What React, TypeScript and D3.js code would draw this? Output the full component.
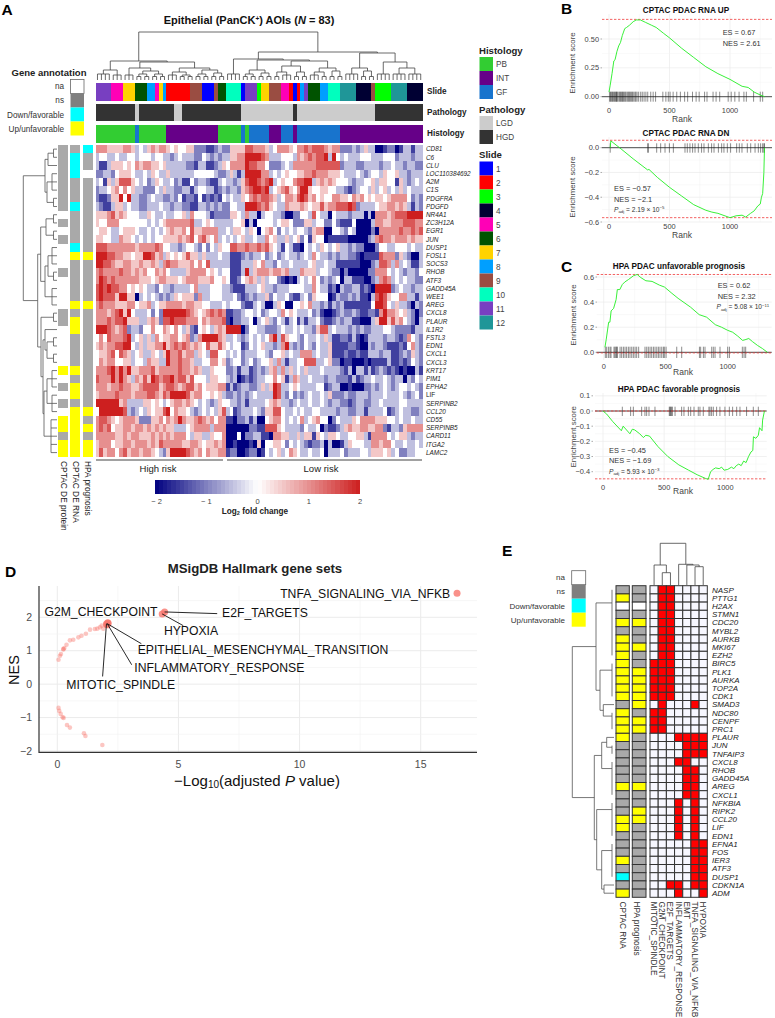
import React from "react";
import * as d3 from "d3";

const FONT = "'Liberation Sans', Arial, sans-serif";

// ---------- Panel A data ----------
const genesA = ["CD81","C6","CLU","LOC110384692","A2M","C1S","PDGFRA","PDGFD","NR4A1","ZC3H12A","EGR1","JUN","DUSP1","FOSL1","SOCS3","RHOB","ATF3","GADD45A","WEE1","AREG","CXCL8","PLAUR","IL1R2","FSTL3","EDN1","CXCL1","CXCL3","KRT17","PIM1","EPHA2","LIF","SERPINB2","CCL20","CD55","SERPINB5","CARD11","ITGA2","LAMC2"];
// each digit d = log2 FC level (d-4)/2
const heatRows = [
"6665555665 3435656654 5445522211 2322555577 6665346665 4667677765 6622232353 3001220133133",
"3443343344 3444344332 3433322432 3233556688 8876333444 3656767783 8434333444 3334442333233",
"3113555454 6566554533 3332213311 2354666687 7664222343 6666667777 7723332233 3323343323322",
"2233245554 3343543353 3333344444 3223531388 8866343454 4556676665 5543334323 4435445332333",
"3415357775 4342354334 2311423321 1343323578 8767834544 6778835656 5444323344 5355441532343",
"2334564645 3322243533 2233134433 1232332567 8878345675 4688544554 4332123443 5345343534333",
"2112558483 3223433223 2412214121 2143433546 7677653466 5787564544 6655465645 4554566664232",
"3211355343 3223334332 3322113323 2322443388 8767543365 5565455756 6777872333 3455665653132",
"5556756544 4335433433 4453644431 2222554363 3034433200 2244374330 4333233303 0666567778888",
"5446664444 4443434566 6666733454 3333344503 0444434554 2225534422 4211140000 3665566677766",
"4554334555 4334343456 5564755666 6334355435 4045642434 3443256600 4432430000 2066666766767",
"5544336554 3434344555 5656746754 6343434533 4336453353 4524154401 1111000002 3676656665655",
"7776666666 5666676443 3234432424 3544776676 6767543143 1104343543 4533232200 0244334443433",
"8887766554 5588756354 5457553533 3433111232 3342342343 3234364332 3233221011 1176662532003",
"8877655665 5655653676 6555646473 3333111333 5463324334 3333453343 3111111000 2377636343113",
"6766667665 6564465643 3335666645 4344111383 5666566563 3365553443 2202000002 2666434323324",
"6876766666 6555456655 5456665556 4454112456 5353442101 0343464232 3403311100 2367634343322",
"7878776645 4543324332 3333463334 4433211133 3453323334 4443364331 2032233121 0888823433233",
"7877758855 0343432323 5455526334 4433342123 2335243342 1134254440 1322323110 3787544663313",
"6766655566 4556345566 6656655443 3343444211 3430035400 4454633231 3231111111 4887435332032",
"6665678584 3334242888 8887654567 6761122344 3423443645 4333423100 1232232112 2168665453202",
"6667677855 5335652778 7776664656 6671022334 0345324313 4131334211 2323311000 3588575643203",
"8887656723 3244644654 6435214543 5658888024 4332223433 4343325773 4333232322 3334432222133",
"4647666783 4535364556 6456236888 8653343234 3434683754 4324334353 1122131013 3332332126432",
"5656677884 3535566856 7676565475 5754344124 3453323683 2324324335 1111221003 2332111214632",
"4556747653 4533543586 6756635437 7443434233 3443244534 3366634335 1112112113 3323311232532",
"4656644553 4436553386 6766533446 6452344234 2344536313 3447773345 2201100010 1111311212432",
"6667868685 5666756666 6766565335 4442231331 2323563635 3435333433 3321303313 1232121010031",
"7666868653 6575876778 6775744435 5443230121 2334464513 6533433323 3222131233 4334323303243",
"6665667665 5677775677 6567756455 5661312332 2353587334 5433334412 3300100022 3234323443432",
"5666676665 6667765768 8887566445 4532232323 4333387324 2323433435 2223223332 3334333432342",
"8888885633 3355454345 6656543432 3544332313 3334565332 3433433432 3322123322 3343333443333",
"4888888732 3435455784 6554323434 3573412333 4325577433 4343344333 3233223313 3334123433223",
"6776545666 5222556465 6865567656 4661102231 3004566434 3463456440 2433354666 6555443433433",
"6767455665 6656565655 3334566663 6660000002 2117775433 3324334021 1235655665 5662133256666",
"6666655656 6555656565 6664355335 4460004022 3311066553 3535515435 5433445531 6666434553233",
"5666455665 6665657666 6655665455 6560010001 0504455424 3432122303 0013544433 6656643343343",
"5756646756 6566543258 8887656465 5661220012 2014345346 5433433403 3342333443 5554534223344",
];
const slideRuns: [number, number][] = [[11,4],[5,3],[7,3],[6,3],[8,2],[5,1],[7,1],[8,1],[2,6],[9,3],[1,3],[9,1],[6,2],[10,4],[1,1],[11,3],[3,1],[7,2],[9,3],[5,2],[2,1],[1,1],[2,1],[8,1],[11,1],[6,3],[8,2],[10,3],[12,4],[4,4],[9,1],[3,4],[12,4],[4,4]];
const pathologyRuns: [string, number][] = [["HGD",10],["LGD",1],["HGD",9],["LGD",2],["HGD",15],["LGD",13],["HGD",1],["LGD",20],["HGD",12]];
const histologyRuns: [string, number][] = [["PB",10],["GF",1],["PB",7],["INT",13],["PB",6],["GF",1],["PB",1],["GF",5],["INT",3],["GF",3],["INT",1],["GF",11],["INT",21]];
// annotation codes: w=na, g=ns, c=down/favorable, y=up/unfavorable
const annoProtein = "ggggggggwgwgwwwgwwwwggwwwwwywgwgwyygyy";
const annoRna     = "gcccgggcggggcygggggygyyggggygyygyyyyyy";
const annoHpa     = "cggwgggggggggygggggyggggggggggggygygyy";
const colTree: any = [48,[19,[10,4,3],[18,[12,3,[9,[6,2,2],[6,2,2]]],[12,[8,3,[5,2,2]],[10,[6,2,2],[7,2,2]]]]],
  [28,[21,4,[20,[10,[6,2,2],[7,2,2]],[19,[14,[8,2,3],[8,2,2]],[12,[8,3,2],[9,2,2]]]]],[27,[12,4,[9,2,2]],[18,4,[12,4,4]]]]];
const rowTree: any = [33.7,[12,[9,2,1],[10,3,2]],[19.3,[16.3,[11,2,2],[12,[9,3,2],3]],[16,2,[14,[12,1,[10,2,2]],[13,[10,3,3],5]]]]];
const slideNames = ["1","2","3","4","5","6","7","8","9","10","11","12"];
const slideColors = ["#0000FF","#FF0000","#00FF00","#000033","#FF00B6","#005300","#FFD300","#009FFF","#9A4D42","#00FFBE","#783FC1","#1F9698"];
const histNames = ["PB","INT","GF"];
const histColors = ["#32CD32","#660088","#1874CD"];
const pathNames = ["LGD","HGD"];
const pathColors = ["#CCCCCC","#333333"];
const annoNames = ["na","ns","Down/favorable","Up/unfavorable"];
const colorbarTicks = [-2,-1,0,1,2];

// ---------- Panels B, C data ----------
const upCurve = [[0,.04],[10,.1],[25,.2],[40,.31],[50,.32],[65,.39],[80,.44],[95,.47],[110,.53],[120,.56],[130,.59],[145,.60],[170,.62],[200,.65],[225,.665],[260,.665],[300,.645],[350,.62],[390,.60],[450,.55],[500,.51],[600,.42],[700,.34],[800,.26],[900,.2],[1000,.15],[1100,.09],[1150,.08],[1200,.04],[1250,.015],[1285,0]];
const upRug = [5,12,18,25,30,38,45,52,58,62,68,75,85,92,98,105,112,118,125,133,140,150,158,165,172,180,188,195,205,215,222,232,245,262,275,290,305,320,345,365,385,445,470,490,505,530,560,590,625,650,690,720,745,790,810,860,885,915,985,1010,1040,1075,1115,1135,1195,1250,1270];
const dnCurve = [[10,0],[15,.055],[100,-.01],[200,-.09],[320,-.18],[330,-.175],[400,-.24],[500,-.32],[600,-.39],[700,-.46],[800,-.505],[850,-.52],[900,-.53],[1000,-.565],[1050,-.55],[1100,-.545],[1130,-.56],[1170,-.53],[1200,-.51],[1230,-.47],[1250,-.455],[1260,-.40],[1270,-.37],[1280,-.2],[1285,0]];
const dnRug = [10,320,325,394,427,463,499,532,628,647,669,691,711,738,765,785,821,848,868,904,931,950,978,1005,1055,1077,1099,1143,1171,1207,1234,1253,1270,1281,1284];
const unfavCurve = [[10,.04],[20,.1],[30,.17],[40,.24],[50,.24],[60,.33],[80,.35],[100,.42],[110,.5],[130,.5],[150,.54],[170,.56],[200,.58],[240,.61],[270,.62],[300,.595],[340,.57],[390,.565],[450,.535],[490,.52],[550,.47],[600,.43],[700,.36],[770,.3],[830,.28],[900,.22],[950,.2],[1000,.175],[1040,.16],[1080,.13],[1120,.095],[1140,.1],[1170,.11],[1200,.085],[1240,.055],[1280,.03],[1320,0]];
const unfavRug = [13,24,38,51,59,83,91,99,105,110,132,145,159,172,185,199,212,226,239,253,266,282,333,347,360,374,387,401,414,428,441,454,468,481,489,503,589,629,772,782,804,817,871,884,898,938,1000,1014,1118,1132,1145];
const favCurve = [[0,0],[30,-.02],[80,-.07],[150,-.13],[165,-.1],[220,-.15],[240,-.12],[260,-.125],[300,-.15],[330,-.175],[350,-.16],[380,-.165],[450,-.235],[530,-.3],[620,-.355],[700,-.39],[770,-.42],[840,-.445],[860,-.45],[880,-.40],[900,-.385],[920,-.375],[950,-.38],[970,-.37],[990,-.39],[1020,-.385],[1050,-.37],[1070,-.38],[1090,-.36],[1110,-.35],[1130,-.36],[1150,-.33],[1170,-.34],[1190,-.3],[1210,-.27],[1225,-.26],[1230,-.17],[1250,-.18],[1270,-.16],[1280,-.11],[1300,-.13],[1305,-.06],[1320,0]];
const favRug = [158,226,248,316,343,357,376,425,542,548,553,561,567,589,643,662,698,717,744,779,793,820,866,875,888,902,929,956,997,1033,1060,1093,1120,1174,1229,1270];

// ---------- Panel D data ----------
const topSets = [[16.5,2.72],[4.43,2.16],[4.33,2.1],[2.03,1.8],[2.08,1.84],[2.05,1.78],[2.1,1.82]];
const otherSets = [[.05,.73],[.11,.85],[.15,.9],[.25,1.04],[.29,1.08],[.25,1.05],[.38,1.18],[.52,1.31],[.66,1.33],[.87,1.4],[1.0,1.45],[1.18,1.51],[1.35,1.63],[1.55,1.65],[1.65,1.66],[1.76,1.7],[1.83,1.75],[1.9,1.66],[2.1,1.73],
  [.05,-.71],[.08,-.8],[.14,-.89],[.22,-.99],[.26,-1.01],[.4,-1.22],[.52,-1.3],[1.1,-1.47],[1.16,-1.55],[1.86,-1.82]];
const dTicksX = [0,5,10,15];
const dTicksY = [-2,-1,0,1,2];
const dLabels: [string, number, number][] = [
 ["TNFA_SIGNALING_VIA_NFKB",9.2,2.66],["G2M_CHECKPOINT",-.53,2.13],["E2F_TARGETS",6.8,2.1],["HYPOXIA",4.4,1.58],
 ["EPITHELIAL_MESENCHYMAL_TRANSITION",3.32,1.0],["INFLAMMATORY_RESPONSE",3.18,.47],["MITOTIC_SPINDLE",.37,-.05]];
const dSegments = [[4.43,2.16,6.6,2.11],[4.33,2.1,5.2,1.75],[2.06,1.81,3.47,1.21],[2.06,1.81,3.07,.58],[2.03,1.81,1.87,.23]];

// ---------- Panel E data ----------
const genesE = ["NASP","PTTG1","H2AX","STMN1","CDC20","MYBL2","AURKB","MKI67","EZH2","BIRC5","PLK1","AURKA","TOP2A","CDK1","SMAD3","NDC80","CENPF","PRC1","PLAUR","JUN","TNFAIP3","CXCL8","RHOB","GADD45A","AREG","CXCL1","NFKBIA","RIPK2","CCL20","LIF","EDN1","EFNA1","FOS","IER3","ATF3","DUSP1","CDKN1A","ADM"];
const setsE = ["MITOTIC_SPINDLE","G2M_CHECKPOINT","E2F_TARGETS","INFLAMMATORY_RESPONSE","EMT","TNFA_SIGNALING_VIA_NFKB","HYPOXIA"];
const membership = ["0110000","0110000","0110000","0110000","0110000","0110000","0110000","0110000","0110000","1110000","1110000","1110000","1110000","1110000","0100010","1100000","1100000","1100000","0001111","0000111","0000111","0001100","0000110","0000110","0000110","0000110","0001010","0001010","0001010","0001010","0001010","0000011","0000011","0000011","0000011","0000011","0011011","0001001"];
const annoRnaE = "gywgygyyyyyyyygyyyygggggygggyygggygcgy";
const annoHpaE = "ggwgyggygg"+"yyyyygyygg"+"ggggyggyyg"+"gggggggg";
const colTreeE: any = [41.7,[20,1,[12.3,1,1]],[20.7,1,[20,1,[18.3,1,1]]]];
const rowTreeE: any = [41.7,[18,9,[14,5,[10.7,1,3]]],[19.7,[12.3,[7.3,1,2],5],[17.3,5,[12.3,5,[10,1,1]]]]];

// ---------- helpers ----------
const annoColor: Record<string,string> = { w:"#FFFFFF", g:"#A9A9A9", c:"#00FFFF", y:"#FFFF00" };
const annoLegend = ["#FFFFFF","#7F7F7F","#00FFFF","#FFFF00"];
const T = (p: any) => <text fontFamily={FONT} {...p} />;
const expand = <V,>(runs: [V, number][]) => runs.flatMap(([v, n]) => d3.range(n).map(() => v));

function treePath(spec: any, leafPos: (i:number)=>number, hPos: (h:number)=>number, vertical: boolean, combH: (n:number)=>number, frac: number, stems: boolean) {
  const p = d3.path();
  const seg = (a1:number,h1:number,a2:number,h2:number) => {
    if (vertical) { p.moveTo(a1,hPos(h1)); p.lineTo(a2,hPos(h2)); }
    else { p.moveTo(hPos(h1),a1); p.lineTo(hPos(h2),a2); }
  };
  let i = 0;
  const walk = (s: any): [number, number] => {
    if (typeof s === "number") {
      if (s === 1) return [leafPos(i++), 0];
      const start = i; i += s;
      const a0 = leafPos(start), a1 = leafPos(start + s - 1), h = combH(s);
      seg(a0,h,a1,h);
      if (stems) d3.range(s).forEach(k => seg(leafPos(start+k),0,leafPos(start+k),h));
      return [a0 + (a1-a0)*frac, h];
    }
    const [h, ...kids] = s;
    const res = kids.map(walk);
    const as = res.map((r: any) => r[0]);
    seg(Math.min(...as),h,Math.max(...as),h);
    res.forEach((r: any) => seg(r[0],r[1],r[0],h));
    return [(as[0]+as[as.length-1])/2, h];
  };
  walk(spec);
  return p.toString();
}

function Padj({ x, y, text, exp }: any) {
  return <T x={x} y={y} fontSize={6.6} fill="#333"><tspan fontStyle="italic">P</tspan><tspan fontSize={4.4} dy={1.5}>adj</tspan><tspan dy={-1.5}> = {text} × 10</tspan><tspan fontSize={4.4} dy={-2.5}>{exp}</tspan></T>;
}

function Gsea({ title, titleX, titleY, curve, rug, xCal, yCal, xRange, yTop, yBot, yTicks, yFmt, dashes, rugY, xLabelY, rankX, rankY, yLabelX, yLabelY, tickRight }: any) {
  const x = d3.scaleLinear().domain([0,1000]).range(xCal);
  const y = d3.scaleLinear().domain(yCal[0]).range(yCal[1]);
  const line = d3.line().x((d:any)=>x(d[0])).y((d:any)=>y(d[1]));
  const minorY = yTicks.slice(1).map((t:number,i:number)=>(t+yTicks[i])/2);
  return <g>
    {[250,750,1250].map(t=><line key={t} x1={x(t)} x2={x(t)} y1={yTop} y2={yBot} stroke="#F2F2F2" strokeWidth={.5}/>)}
    {[0,500,1000].map(t=><line key={t} x1={x(t)} x2={x(t)} y1={yTop} y2={yBot} stroke="#EBEBEB" strokeWidth={.7}/>)}
    {minorY.map((t:number)=><line key={t} x1={xRange[0]} x2={xRange[1]} y1={y(t)} y2={y(t)} stroke="#F2F2F2" strokeWidth={.5}/>)}
    {yTicks.map((t:number)=><line key={t} x1={xRange[0]} x2={xRange[1]} y1={y(t)} y2={y(t)} stroke="#EBEBEB" strokeWidth={.7}/>)}
    {rug.map((r:number,i:number)=><line key={i} x1={x(r)} x2={x(r)} y1={rugY[0]} y2={rugY[1]} stroke="#000" strokeOpacity={.5} strokeWidth={.9}/>)}
    <line x1={xRange[0]} x2={xRange[1]} y1={y(0)} y2={y(0)} stroke="#222" strokeWidth={.8}/>
    {dashes.map((d:number)=><line key={d} x1={xRange[0]} x2={xRange[1]} y1={y(d)} y2={y(d)} stroke="#F03B3B" strokeWidth={.8} strokeDasharray="2.4 1.6"/>)}
    <path d={line(curve) as string} fill="none" stroke="#22EE22" strokeWidth={.9}/>
    {yTicks.map((t:number)=><g key={t}>
      <T x={tickRight} y={y(t)+2.6} fontSize={7.4} fill="#444" textAnchor="end">{yFmt(t)}</T>
      <line x1={tickRight+1.5} x2={tickRight+3} y1={y(t)} y2={y(t)} stroke="#555" strokeWidth={.5}/>
    </g>)}
    {[0,500,1000].map(t=><T key={t} x={x(t)} y={xLabelY} fontSize={7.4} fill="#444" textAnchor="middle">{t}</T>)}
    <T x={rankX} y={rankY} fontSize={8.5} fill="#444" textAnchor="middle">Rank</T>
    <T transform={`translate(${yLabelX},${yLabelY}) rotate(-90)`} fontSize={7.9} fill="#444" textAnchor="middle">Enrichment score</T>
    <T x={titleX} y={titleY} fontSize={8.2} fontWeight="bold" fill="#111" textAnchor="middle">{title}</T>
  </g>;
}

export default function App() {
  // Panel A scales
  const hx = d3.scaleBand<number>().domain(d3.range(83)).range([95.5,422.7]);
  const hy = d3.scaleBand<number>().domain(d3.range(38)).range([145,456.7]);
  const heatColor = d3.scaleLinear<string>().domain([-2,0,2]).range(["#00007F","#FFFFFF","#CD1F1F"]);
  const heat = heatRows.map(r => r.replace(/\s/g,"").padEnd(83,"4").slice(0,83).split("").map(c => (+c-4)/2));
  const slides = expand(slideRuns), paths = expand(pathologyRuns), hists = expand(histologyRuns);
  const bars = [
    { y:82.7, h:17.8, col:(i:number)=>slideColors[(slides[i] as number)-1] },
    { y:103.7, h:17.6, col:(i:number)=>pathColors[pathNames.indexOf(paths[i] as string)] },
    { y:125, h:17.7, col:(i:number)=>histColors[histNames.indexOf(hists[i] as string)] },
  ];
  const cbar = d3.scaleLinear().domain([-2,2]).range([155,360]);
  const cbarSteps = d3.range(-2,2,4/50);
  const topH = d3.scaleLinear().domain([0,48]).range([80,32]);
  const leftH = d3.scaleLinear().domain([0,33.7]).range([57,23.3]);
  const combH = (n:number)=> n===2?3.5:n===3?5:6;
  const leftAnn = [ {s:annoProtein,x:58.3}, {s:annoRna,x:70.3}, {s:annoHpa,x:82.7} ];

  // Panel D scales
  const dx = d3.scaleLinear().domain([0,15]).range([57.3,420.7]);
  const dy = d3.scaleLinear().domain([-2,2]).range([751,617.3]);

  // Panel E
  const ex = d3.scaleBand<number>().domain(d3.range(7)).range([650,707.3]);
  const ey = d3.scaleBand<number>().domain(d3.range(38)).range([585.7,897.3]);
  const eRowH = d3.scaleLinear().domain([0,41.7]).range([614,572.3]);
  const eColH = d3.scaleLinear().domain([0,41.7]).range([585,543.3]);

  return (
    <svg width={775} height={1018} style={{position:"absolute",left:0,top:0,background:"#fff"}}>
      {/* panel letters */}
      {[["A",1.5,15],["B",561,14],["C",561,272],["D",5,576.5],["E",502,555.5]].map(([t,x,y])=>
        <T key={t as string} x={x} y={y} fontSize={15.5} fontWeight="bold" fill="#000">{t}</T>)}

      {/* ===== Panel A ===== */}
      <T x={249} y={24} fontSize={11} fontWeight="bold" textAnchor="middle" fill="#111">Epithelial (PanCK<tspan fontSize={6.5} dy={-3}>+</tspan><tspan dy={3}>) AOIs (</tspan><tspan fontStyle="italic">N</tspan> = 83)</T>
      <path d={treePath(colTree,i=>hx(i)!+hx.bandwidth()/2,h=>topH(h),true,combH,.5,true)} fill="none" stroke="#444" strokeWidth={.8}/>
      <path d={treePath(rowTree,i=>hy(i)!+hy.bandwidth()/2,h=>leftH(h),false,combH,.5,true)} fill="none" stroke="#555" strokeWidth={.8}/>
      <g shapeRendering="crispEdges">
        {bars.map((b,k)=>d3.range(83).map(i=><rect key={k+"-"+i} x={hx(i)} y={b.y} width={hx.bandwidth()+.3} height={b.h} fill={b.col(i)}/>))}
        {heat.map((row,r)=>row.map((v,c)=><rect key={r+"_"+c} x={hx(c)} y={hy(r)} width={hx.bandwidth()+.3} height={hy.bandwidth()+.3} fill={heatColor(v)}/>))}
        {leftAnn.map((a,k)=>genesA.map((g,r)=>{
          const code=a.s[r]||"w";
          return code==="w"?null:<rect key={k+g} x={a.x} y={hy(r)} width={10} height={hy.bandwidth()+.3} fill={annoColor[code]}/>;
        }))}
      </g>
      {genesA.map((g,r)=><T key={g} x={426} y={hy(r)!+hy.bandwidth()/2+2.3} fontSize={6.4} fontStyle={g==="LIF"?"normal":"italic"} fill="#222">{g}</T>)}
      {["Slide","Pathology","Histology"].map((t,i)=><T key={t} x={427} y={[94,115,135.5][i]} fontSize={8.2} fontWeight="bold" fill="#222">{t}</T>)}
      {["CPTAC DE protein","CPTAC DE RNA","HPA prognosis"].map((t,i)=>
        <T key={t} transform={`translate(${[61,72.5,84.5][i]},461) rotate(90)`} fontSize={8.4} fill="#222">{t}</T>)}
      <line x1={96} x2={223} y1={460} y2={460} stroke="#444" strokeWidth={1.2}/>
      <line x1={227} x2={422} y1={460} y2={460} stroke="#444" strokeWidth={1.2}/>
      <T x={158} y={471.5} fontSize={9.5} textAnchor="middle" fill="#222">High risk</T>
      <T x={321} y={471.5} fontSize={9.5} textAnchor="middle" fill="#222">Low risk</T>
      <g shapeRendering="crispEdges">
        {cbarSteps.map(v=><rect key={v} x={cbar(v)} y={480} width={cbar(-2+4/50)-cbar(-2)+.4} height={14} fill={heatColor(v+2/50)}/>)}
      </g>
      {colorbarTicks.map(t=><T key={t} x={t===-2?156.5:cbar(t)} y={503.5} fontSize={7.5} textAnchor="middle" fill="#444">{t<0?"− "+(-t):t}</T>)}
      <T x={255} y={513.5} fontSize={8.2} fontWeight="bold" textAnchor="middle" fill="#222">Log<tspan fontSize={5.5} dy={1.5}>2</tspan><tspan dy={-1.5}> fold change</tspan></T>

      {/* gene annotation legend */}
      <T x={11.5} y={76} fontSize={9.5} fontWeight="bold" fill="#222">Gene annotation</T>
      {annoNames.map((n,i)=><g key={n}>
        <rect x={70.5} y={79.5+14*i} width={13.5} height={14} fill={annoLegend[i]} stroke={i===0?"#666":"none"} strokeWidth={.8}/>
        <T x={64} y={[89,103,118,132][i]} fontSize={8.2} textAnchor="end" fill="#333">{n}</T>
      </g>)}

      {/* right legends */}
      <T x={479} y={53.5} fontSize={9.6} fontWeight="bold" fill="#222">Histology</T>
      {histNames.map((n,i)=><g key={n}><rect x={479.5} y={57+14*i} width={13.5} height={14} fill={histColors[i]}/><T x={496} y={67+14*i} fontSize={8.2} fill="#444">{n}</T></g>)}
      <T x={479} y={112.5} fontSize={9.6} fontWeight="bold" fill="#222">Pathology</T>
      {pathNames.map((n,i)=><g key={n}><rect x={479.5} y={116+14*i} width={13.5} height={14} fill={pathColors[i]}/><T x={496} y={126+14*i} fontSize={8.2} fill="#444">{n}</T></g>)}
      <T x={479} y={157.5} fontSize={9.6} fontWeight="bold" fill="#222">Slide</T>
      {slideNames.map((n,i)=><g key={n}><rect x={479.5} y={161.5+14*i} width={13.5} height={14} fill={slideColors[i]}/><T x={496} y={171.5+14*i} fontSize={8.2} fill="#444">{n}</T></g>)}

      {/* ===== Panel B ===== */}
      <Gsea title="CPTAC PDAC RNA UP" titleX={686} titleY={13} curve={upCurve} rug={upRug} xCal={[609,730]} yCal={[[0,.5],[96.7,39]]}
        xRange={[602,772]} yTop={14} yBot={104} yTicks={[0,.25,.5]} yFmt={(t:number)=>t.toFixed(2)} dashes={[.67]} rugY={[91.7,101.7]}
        xLabelY={113} rankX={682} rankY={121.5} yLabelX={574.5} yLabelY={63} tickRight={599}/>
      <T x={722.7} y={35} fontSize={7.4} fill="#333">ES = 0.67</T>
      <T x={722.7} y={46} fontSize={7.4} fill="#333">NES = 2.61</T>

      <Gsea title="CPTAC PDAC RNA DN" titleX={686} titleY={136} curve={dnCurve} rug={dnRug} xCal={[609,730]} yCal={[[0,-.6],[147.7,222]]}
        xRange={[602,772]} yTop={137} yBot={222} yTicks={[0,-.2,-.4,-.6]} yFmt={(t:number)=>(t<0?"−":"")+Math.abs(t).toFixed(1)} dashes={[.06,-.565]} rugY={[143.3,152.7]}
        xLabelY={229} rankX={682} rankY={238} yLabelX={574.5} yLabelY={187} tickRight={599}/>
      <T x={614} y={190.5} fontSize={7.4} fill="#333">ES = −0.57</T>
      <T x={614} y={201.5} fontSize={7.4} fill="#333">NES = −2.1</T>
      <Padj x={614} y={211.5} text="2.19" exp="−5"/>

      {/* ===== Panel C ===== */}
      <Gsea title="HPA PDAC unfavorable prognosis" titleX={679} titleY={268.5} curve={unfavCurve} rug={unfavRug} xCal={[603.7,727.7]} yCal={[[0,.6],[352.3,277]]}
        xRange={[596.7,771.7]} yTop={272} yBot={360} yTicks={[0,.2,.4,.6]} yFmt={(t:number)=>t.toFixed(1)} dashes={[.62,-.005]} rugY={[346.7,358]}
        xLabelY={368.5} rankX={683} rankY={374.5} yLabelX={575.5} yLabelY={315} tickRight={594}/>
      <T x={717.7} y={288} fontSize={7.4} fill="#333">ES = 0.62</T>
      <T x={717.7} y={299} fontSize={7.4} fill="#333">NES = 2.32</T>
      <Padj x={716.5} y={309} text="5.08" exp="−11"/>

      <Gsea title="HPA PDAC favorable prognosis" titleX={679} titleY={391.5} curve={favCurve} rug={favRug} xCal={[603,725.3]} yCal={[[0,-.4],[411,471.7]]}
        xRange={[595,766.7]} yTop={393} yBot={480} yTicks={[.1,0,-.1,-.2,-.3,-.4]} yFmt={(t:number)=>(t<0?"−":"")+Math.abs(t).toFixed(1)} dashes={[0,-.447]} rugY={[406.7,416]}
        xLabelY={489.5} rankX={683} rankY={494} yLabelX={575.5} yLabelY={436.7} tickRight={590}/>
      <T x={609} y={452.5} fontSize={7.4} fill="#333">ES = −0.45</T>
      <T x={609} y={463} fontSize={7.4} fill="#333">NES = −1.69</T>
      <Padj x={609} y={473.5} text="5.93" exp="−3"/>

      {/* ===== Panel D ===== */}
      <T x={255} y={573} fontSize={13.2} fontWeight="bold" textAnchor="middle" fill="#222">MSigDB Hallmark gene sets</T>
      {[2.5,7.5,12.5].map(t=><line key={t} x1={dx(t)} x2={dx(t)} y1={586} y2={752} stroke="#F2F2F2" strokeWidth={.6}/>)}
      {dTicksX.map(t=><line key={t} x1={dx(t)} x2={dx(t)} y1={586} y2={752} stroke="#EBEBEB" strokeWidth={1}/>)}
      {[-1.5,-.5,.5,1.5,2.5].map(t=><line key={t} x1={39} x2={477} y1={dy(t)} y2={dy(t)} stroke="#F2F2F2" strokeWidth={.6}/>)}
      {dTicksY.map(t=><line key={t} x1={39} x2={477} y1={dy(t)} y2={dy(t)} stroke="#EBEBEB" strokeWidth={1}/>)}
      {otherSets.map(([x,y],i)=><circle key={i} cx={dx(x)} cy={dy(y)} r={2.3} fill="#F8766D" fillOpacity={.42}/>)}
      {topSets.map(([x,y],i)=><circle key={i} cx={dx(x)} cy={dy(y)} r={3.5} fill="#F8766D" fillOpacity={.8}/>)}
      {dSegments.map(([a,b,c,d],i)=><line key={i} x1={dx(a)} y1={dy(b)} x2={dx(c)} y2={dy(d)} stroke="#111" strokeWidth={.9}/>)}
      {dLabels.map(([t,x,y])=><T key={t} x={dx(x)} y={dy(y)} fontSize={12.2} fill="#111" dominantBaseline="middle">{t}</T>)}
      <path d="M39,586V752.3H477" fill="none" stroke="#333" strokeWidth={1.2}/>
      {dTicksX.map(t=><T key={t} x={dx(t)} y={768} fontSize={10.5} fill="#4D4D4D" textAnchor="middle">{t}</T>)}
      {dTicksY.map(t=><T key={t} x={32} y={dy(t)+3.7} fontSize={10.5} fill="#4D4D4D" textAnchor="end">{t<0?"−"+(-t):t}</T>)}
      <T transform="translate(19,670) rotate(-90)" fontSize={14.5} fill="#111" textAnchor="middle">NES</T>
      <T x={257} y={785.5} fontSize={15} fill="#111" textAnchor="middle">−Log<tspan fontSize={10} dy={2.5}>10</tspan><tspan dy={-2.5}>(adjusted </tspan><tspan fontStyle="italic">P</tspan> value)</T>

      {/* ===== Panel E ===== */}
      {annoNames.map((n,i)=><g key={n}>
        <rect x={571.7} y={570.7+14*i} width={14} height={14} fill={annoLegend[i]} stroke={i===0?"#666":"none"} strokeWidth={.8}/>
        <T x={565} y={[579.5,594,608.5,622.5][i]} fontSize={8} textAnchor="end" fill="#333">{n}</T>
      </g>)}
      <path d={treePath(colTreeE,i=>ex(i)!+ex.bandwidth()/2,h=>eColH(h),true,combH,.5,true)} fill="none" stroke="#444" strokeWidth={.8}/>
      <path d={treePath(rowTreeE,i=>ey(i)!+ey.bandwidth()/2,h=>eRowH(h),false,()=>2,.2,false)} fill="none" stroke="#555" strokeWidth={.8}/>
      {genesE.map((g,r)=><g key={g}>
        <rect x={616} y={ey(r)} width={13.3} height={ey.bandwidth()} fill={annoColor[annoRnaE[r]||"g"]} stroke="#333" strokeWidth={1}/>
        <rect x={632.3} y={ey(r)} width={13.7} height={ey.bandwidth()} fill={annoColor[annoHpaE[r]||"g"]} stroke="#333" strokeWidth={1}/>
        {d3.range(7).map(c=><rect key={c} x={ex(c)} y={ey(r)} width={ex.bandwidth()} height={ey.bandwidth()} fill={membership[r][c]==="1"?"#FF0000":"#F7F7FF"} stroke="#333" strokeWidth={1}/>)}
        <T x={712} y={ey(r)!+ey.bandwidth()/2+2.8} fontSize={8} fontStyle="italic" fill="#222">{g}</T>
      </g>)}
      {["CPTAC RNA","HPA prognosis"].map((t,i)=><T key={t} transform={`translate(${[620,634][i]},901.5) rotate(90)`} fontSize={8.3} fill="#333">{t}</T>)}
      {setsE.map((t,c)=><T key={t} transform={`translate(${ex(c)!+1},901.5) rotate(90)`} fontSize={8.3} fill="#333">{t}</T>)}
    </svg>
  );
}
